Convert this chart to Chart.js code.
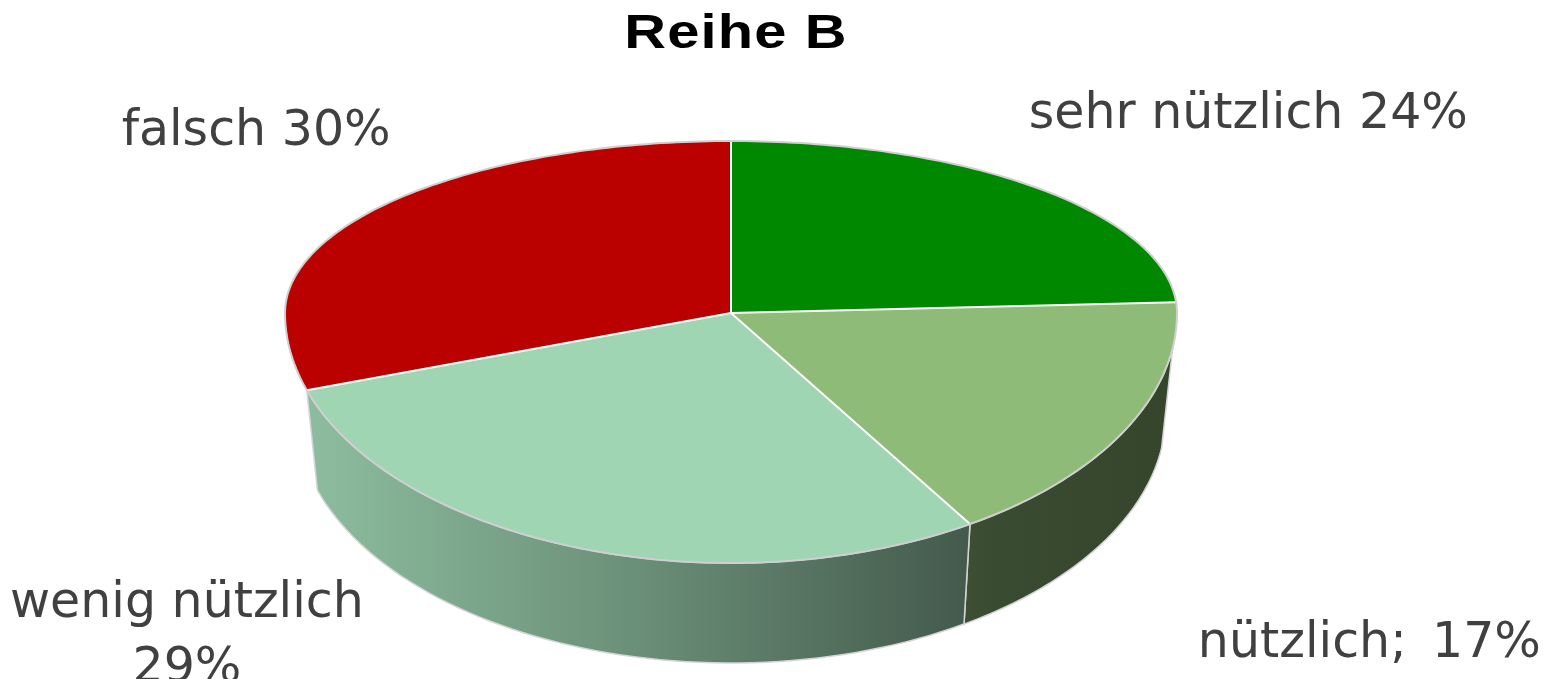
<!DOCTYPE html>
<html>
<head>
<meta charset="utf-8">
<title>Reihe B</title>
<script src="https://cdn.jsdelivr.net/npm/chart.js@4.4.0/dist/chart.umd.min.js"></script>
<style>
    html, body { margin: 0; padding: 0; background: #fff; overflow: hidden; }
    #pie { display: block; }
</style>
</head>
<body>
<canvas id="pie" width="1552" height="679"></canvas>
<script>
    "use strict";

    // Daten
    const chartTitle = 'Reihe B';
    const categories = ['sehr nützlich', 'nützlich', 'wenig nützlich', 'falsch'];
    const shares = [24, 17, 29, 30];
    const labelJoin = [' ', ';\u2009 ', '\n', ' '];
    const sliceColors = ['#008800', '#8fbb78', '#9fd5b3', '#bb0000'];

    // Label-Verschiebung gegenüber dem Rand des Stücks (wie im Excel-Original manuell verschoben)
    const labelShift = [[212, -60], [241, 131], [-393, -31], [-114, -67]];

    const labelTexts = categories.map(function (c, i) {
        return (c + labelJoin[i] + shares[i] + '%').split('\n');
    });

    function shade(hex, f) {
        const n = parseInt(hex.slice(1), 16);
        const r = Math.round(((n >> 16) & 255) * f);
        const g = Math.round(((n >> 8) & 255) * f);
        const b = Math.round((n & 255) * f);
        return 'rgb(' + r + ',' + g + ',' + b + ')';
    }

    // Geometrie der 3D-Projektion aus der Chart-Fläche
    function geom(chart) {
        const arcs = chart.getDatasetMeta(0).data;
        const area = chart.chartArea;
        const half = area.height / 2;
        return {
            arcs: arcs,
            cx: arcs[0].x,
            cy: arcs[0].y,
            r: arcs[0].outerRadius,
            rx: area.width / 2,
            ryBack: half * 0.688,
            ryFront: half,
            depth: half * 0.4,
            bottomShrink: 0.975,
            // Perspektive: sichtbare Seitenwand
            sideStart: 8 * Math.PI / 180,
            sideEnd: 162 * Math.PI / 180
        };
    }

    function rim(g, a, bottom) {
        const s = Math.sin(a);
        return {
            x: g.cx + g.rx * (bottom ? g.bottomShrink : 1) * Math.cos(a),
            y: g.cy + (s < 0 ? g.ryBack : g.ryFront) * s + (bottom ? g.depth : 0)
        };
    }

    const pie3d = {
        id: 'pie3d',
        beforeDatasetsDraw: function (chart) {
            const ctx = chart.ctx;
            const g = geom(chart);
            const W = chart.width, H = chart.height;

            // Seitenwände (vordere Hälfte)
            g.arcs.forEach(function (arc, i) {
                const s = Math.max(arc.startAngle, g.sideStart);
                const e = Math.min(arc.endAngle, g.sideEnd);
                if (s >= e) return;
                const steps = 60;
                ctx.save();
                ctx.beginPath();
                for (let k = 0; k <= steps; k++) {
                    const p = rim(g, s + (e - s) * k / steps, false);
                    if (k === 0) ctx.moveTo(p.x, p.y); else ctx.lineTo(p.x, p.y);
                }
                for (let k = steps; k >= 0; k--) {
                    const p = rim(g, s + (e - s) * k / steps, true);
                    ctx.lineTo(p.x, p.y);
                }
                ctx.closePath();
                const grad = ctx.createLinearGradient(g.cx - g.rx, 0, g.cx + g.rx, 0);
                grad.addColorStop(0, shade(sliceColors[i], 0.9));
                grad.addColorStop(0.35, shade(sliceColors[i], 0.7));
                grad.addColorStop(0.8, shade(sliceColors[i], 0.4));
                grad.addColorStop(1, shade(sliceColors[i], 0.37));
                ctx.fillStyle = grad;
                ctx.fill();
                ctx.strokeStyle = '#d4d4d4';
                ctx.lineWidth = 1.5;
                ctx.stroke();
                ctx.restore();
            });

            // Deckfläche: hintere und vordere Hälfte getrennt gestaucht
            [[0, g.cy, g.ryBack], [g.cy, H - g.cy, g.ryFront]].forEach(function (h) {
                ctx.save();
                ctx.beginPath();
                ctx.rect(0, h[0], W, h[1]);
                ctx.clip();
                ctx.translate(g.cx, g.cy);
                ctx.scale(g.rx / g.r, h[2] / g.r);
                ctx.translate(-g.cx, -g.cy);
                g.arcs.forEach(function (arc) { arc.draw(ctx); });
                ctx.restore();
            });

            // Trennlinien
            ctx.save();
            ctx.strokeStyle = '#ffffff';
            ctx.lineWidth = 2;
            g.arcs.forEach(function (arc) {
                const p = rim(g, arc.startAngle, false);
                ctx.beginPath();
                ctx.moveTo(g.cx, g.cy);
                ctx.lineTo(p.x, p.y);
                ctx.stroke();
            });
            // Rand
            ctx.strokeStyle = '#cfcfcf';
            ctx.beginPath();
            for (let k = 0; k <= 360; k++) {
                const p = rim(g, k * Math.PI / 180, false);
                if (k === 0) ctx.moveTo(p.x, p.y); else ctx.lineTo(p.x, p.y);
            }
            ctx.closePath();
            ctx.stroke();
            ctx.restore();
            return false;
        },
        afterDraw: function (chart) {
            const ctx = chart.ctx;
            const g = geom(chart);
            ctx.save();

            // Titel (breit laufende Schrift wie im Original)
            ctx.save();
            ctx.fillStyle = '#000000';
            ctx.font = 'bold 49px "Liberation Sans", Arial, sans-serif';
            ctx.letterSpacing = '1px';
            ctx.textAlign = 'center';
            ctx.textBaseline = 'alphabetic';
            ctx.translate(g.cx + 5, 48);
            ctx.scale(1.18, 1);
            ctx.fillText(chartTitle, 0, 0);
            ctx.restore();

            // Beschriftungen
            ctx.fillStyle = '#404040';
            ctx.font = '49px "DejaVu Sans", Verdana, sans-serif';
            ctx.textAlign = 'center';
            ctx.textBaseline = 'alphabetic';
            g.arcs.forEach(function (arc, i) {
                const mid = (arc.startAngle + arc.endAngle) / 2;
                const p = rim(g, mid, false);
                const y0 = p.y + (Math.sin(mid) > 0 ? g.depth : 0);
                labelTexts[i].forEach(function (line, j) {
                    ctx.fillText(line, p.x + labelShift[i][0], y0 + labelShift[i][1] + j * 65);
                });
            });
            ctx.restore();
        }
    };

    const ctxPie = document.getElementById('pie').getContext('2d');
    const myPie = new Chart(ctxPie, {
        type: 'pie',
        data: {
            labels: categories,
            datasets: [{
                data: shares,
                backgroundColor: sliceColors,
                borderWidth: 0
            }]
        },
        options: {
            responsive: false,
            devicePixelRatio: 1,
            animation: false,
            layout: {
                padding: { left: 285, right: 375, top: 63, bottom: 116 }
            },
            plugins: {
                legend: { display: false },
                tooltip: { enabled: false },
                title: { display: false }
            }
        },
        plugins: [pie3d]
    });
</script>
</body>
</html>
